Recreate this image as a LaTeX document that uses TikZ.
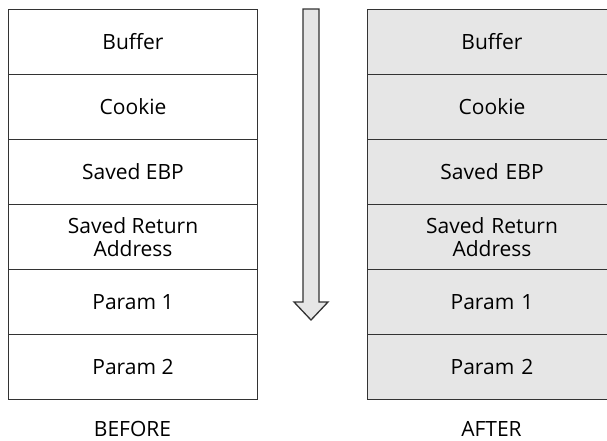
\documentclass[tikz,border=0pt]{standalone}
\usepackage{fontspec}
\setmainfont{Open Sans}
\definecolor{cellgray}{HTML}{E6E6E6}
\definecolor{edgegray}{HTML}{333333}
\begin{document}
\begin{tikzpicture}[x=1pt,y=-1pt,
  cell/.style={draw=edgegray,line width=1pt,minimum width=249pt,minimum height=65pt,inner sep=0pt,anchor=north west,align=center,font=\fontsize{21}{23.5}\selectfont},
  aftercell/.style={cell,fill=cellgray,minimum width=262pt},
  caption/.style={inner sep=0pt,anchor=base,font=\fontsize{21}{23.5}\selectfont}]
\useasboundingbox (0,0) rectangle (607,440);
% BEFORE stack
\node[cell] (b1) at (8,9) {Buffer};
\node[cell] (b2) at (8,74) {Cookie};
\node[cell] (b3) at (8,139) {Saved EBP};
\node[cell] (b4) at (8,204) {Saved Return\\Address};
\node[cell] (b5) at (8,269) {Param 1};
\node[cell] (b6) at (8,334) {Param 2};
% AFTER stack (extends past the right edge)
\node[aftercell,text width=249pt] (a1) at (367,9) {\hspace*{-13pt}Buffer};
\node[aftercell,text width=249pt] (a2) at (367,74) {\hspace*{-13pt}Cookie};
\node[aftercell,text width=249pt] (a3) at (367,139) {\hspace*{-13pt}Saved EBP};
\node[aftercell,text width=249pt] (a4) at (367,204) {\hspace*{-13pt}Saved Return\\\hspace*{-13pt}Address};
\node[aftercell,text width=249pt] (a5) at (367,269) {\hspace*{-13pt}Param 1};
\node[aftercell,text width=249pt] (a6) at (367,334) {\hspace*{-13pt}Param 2};
% captions
\node[caption] (before) at (132.5,436) {BEFORE};
\node[caption] (after) at (491.5,436) {AFTER};
% direction arrow
\draw[draw=edgegray,fill=cellgray,line width=1.3pt,line join=miter]
  (303,9) -- (319,9) -- (319,302) -- (328,302) -- (311,320) -- (294,302) -- (303,302) -- cycle;
\end{tikzpicture}
\end{document}
